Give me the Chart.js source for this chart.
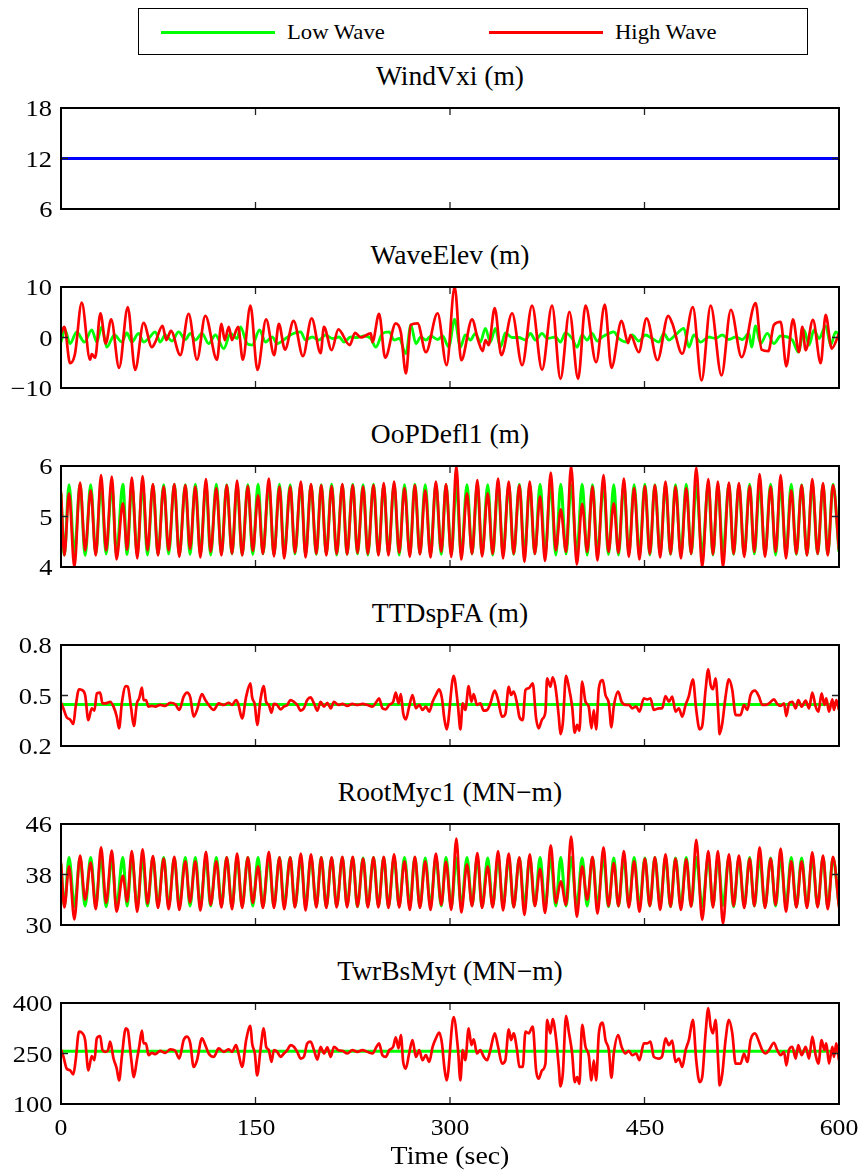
<!DOCTYPE html>
<html>
<head>
<meta charset="utf-8">
<title>Low / High wave load case time series</title>
<script src="https://cdn.jsdelivr.net/npm/chart.js@4.4.0/dist/chart.umd.min.js"></script>
<style>
  html, body { margin: 0; padding: 0; background: #fff; }
  body { position: relative; width: 862px; height: 1171px; overflow: hidden;
         font-family: "Liberation Serif", "Times New Roman", serif; color: #000; }
  canvas { position: absolute; left: 0; }
  .txt { position: absolute; white-space: nowrap; line-height: 1; }
  .title { left: 61px; width: 778px; text-align: center; font-size: 27px; transform: scaleX(1.02); transform-origin: 50% 50%; }
  .ytick { font-size: 23px; text-align: right; transform-origin: 100% 50%; }
  .xtick { font-size: 23px; transform-origin: 50% 50%; }
  #legend { position: absolute; left: 138px; top: 8px; width: 670px; height: 47px;
            border: 1.5px solid #000; box-sizing: border-box; background: #fff; }
  #legend .swatch { position: absolute; height: 3px; top: 22px; width: 114px; }
  #legend .lab { position: absolute; top: 12px; font-size: 22px; line-height: 1; transform: scaleX(1.03); transform-origin: 0 50%; }
</style>
</head>
<body>
<div id="legend">
  <div class="swatch" style="left:22px;background:#00ff00"></div>
  <div class="lab" style="left:148px">Low Wave</div>
  <div class="swatch" style="left:350px;background:#ff0000"></div>
  <div class="lab" style="left:476px">High Wave</div>
</div>
<script>
// ---------------- axis ticks ----------------
const timeTicks = [0, 150, 300, 450, 600];
const timeTickLabels = ['0', '150', '300', '450', '600'];
const windTicks = [6, 12, 18];
const windTickLabels = ['6', '12', '18'];
const waveTicks = [-10, 0, 10];
const waveTickLabels = ['\u221210', '0', '10'];
const oopTicks = [4, 5, 6];
const oopTickLabels = ['4', '5', '6'];
const ttdTicks = [0.2, 0.5, 0.8];
const ttdTickLabels = ['0.2', '0.5', '0.8'];
const rootTicks = [30, 38, 46];
const rootTickLabels = ['30', '38', '46'];
const twrTicks = [100, 250, 400];
const twrTickLabels = ['100', '250', '400'];

// ---------------- hub-height wind speed ----------------
const windTimes = [0, 600];
const windSpeed = [12, 12];

// ---------------- wave elevation (m) ----------------
const waveHighTimes = [0, 2.6, 7.0, 10.8, 16.0, 22.4, 23.7, 26.3, 30.4, 34.5, 38.7, 44.8, 51.5, 57.2, 63.7, 70.1, 72.7, 78.3, 81.2, 84.8,
  92.0, 98.4, 104.9, 111.3, 120.3, 123.7, 126.3, 129.4, 131.9, 136.6, 140.2, 146.1, 151.5, 158.2, 164.4, 168.0, 172.7, 179.4, 186.6, 193.3,
  200.2, 202.8, 208.7, 213.9, 222.6, 226.8, 231.2, 238.9, 240.2, 245.3, 250.0, 258.2, 262.1, 266.0, 269.8, 275.0, 281.4, 290.4, 297.4, 303.6,
  308.7, 317.0, 321.6, 325.2, 327.3, 329.8, 334.5, 339.6, 347.9, 355.6, 363.3, 371.0, 378.7, 385.2, 392.1, 398.8, 404.5, 412.7, 419.4, 424.5,
  432.3, 437.4, 439.2, 445.6, 451.6, 460.0, 468.3, 471.4, 479.1, 487.3, 494.0, 501.0, 509.4, 516.6, 524.9, 535.7, 540.3, 545.5, 549.8, 555.0,
  559.4, 564.5, 569.1, 571.7, 574.3, 579.9, 585.9, 589.7, 594.4, 600];
const waveHigh = [0.8, 2.1, -5.1, -3.2, 6.9, -4.4, -3.3, -4.0, 4.8, -1.2, 3.6, -6.0, 6.0, -6.4, 2.9, -1.9, -0.9, 2.3, -0.5, 1.3,
  -3.5, 4.7, -4.4, 4.3, -4.4, 2.7, -0.5, 2.1, -0.5, 2.1, -4.4, 6.3, -6.4, 3.6, -3.5, 2.7, -2.4, 3.3, -3.7, 3.8,
  -3.1, 2.1, -2.5, 1.6, -1.5, 0.9, 0.0, 0.8, -0.9, 4.7, -4.0, 2.8, 1.0, -7.1, 2.5, 2.8, -2.9, 4.8, -5.5, 10.0,
  -4.5, 3.6, -0.5, -2.7, -0.5, -1.5, 5.8, -3.5, 4.8, -5.5, 6.3, -6.4, 6.3, -8.2, 5.1, -8.2, 6.3, -4.9, 6.5, -6.0,
  3.3, -1.1, 0.5, -2.9, 3.8, -4.5, 4.3, 2.8, -3.2, 6.0, -8.5, 6.3, -7.5, 5.5, -3.9, 6.8, -2.4, -2.7, 2.5, 3.1,
  -5.7, 3.6, -2.9, 2.1, -2.5, 3.5, -5.1, 4.5, -2.2, 0.8];
const waveLowTimes = [0, 3.1, 7.0, 12.1, 18.0, 23.7, 27.6, 31.4, 35.3, 41.2, 46.9, 50.8, 54.6, 59.8, 63.7, 67.5, 72.7, 76.5, 80.4, 85.6,
  90.7, 95.9, 99.7, 103.6, 108.7, 113.9, 119.1, 125.5, 130.7, 135.8, 138.4, 143.5, 147.4, 153.1, 157.7, 162.9, 166.7, 173.2, 177.0, 184.8,
  188.6, 193.8, 198.9, 204.1, 209.3, 214.4, 218.3, 223.4, 228.6, 233.7, 238.9, 242.8, 247.9, 253.1, 256.9, 260.8, 266.0, 269.8, 273.7, 277.5,
  281.4, 285.3, 290.4, 294.3, 299.0, 303.6, 308.0, 311.8, 315.7, 319.6, 323.4, 327.3, 331.1, 335.0, 338.9, 342.7, 347.9, 353.0, 358.2, 362.0,
  365.9, 371.0, 374.9, 381.3, 385.2, 389.0, 394.2, 398.0, 401.9, 405.7, 409.6, 413.5, 417.3, 422.5, 426.3, 430.2, 436.6, 440.5, 445.6, 450.8,
  455.9, 461.1, 464.9, 468.8, 473.9, 480.4, 484.2, 488.1, 493.2, 499.7, 504.8, 510.0, 515.1, 520.3, 525.4, 530.5, 532.6, 535.7, 539.5, 544.7,
  549.8, 555.0, 564.0, 568.6, 573.0, 576.9, 580.7, 584.6, 589.7, 593.6, 597.4, 600];
const waveLow = [-0.9, 1.5, -1.2, 1.1, -0.9, 1.5, -0.9, 2.1, -1.9, 0.5, -0.9, 0.9, -0.9, 0.8, -0.9, -0.2, 1.1, -0.9, 0.5, -0.7,
  1.1, -0.4, 0.8, -0.5, 0.8, -1.2, 0.5, -2.2, 0.8, -0.2, 2.1, -1.2, -1.5, 1.5, -0.9, 0.1, -1.2, -0.2, 0.5, 1.1,
  -0.5, 0.1, -0.5, 0.5, -0.2, 0.1, -0.9, 0.1, 0.0, 0.3, -0.2, -1.9, 0.8, 1.1, -0.5, -0.2, -3.2, 2.5, -1.2, 0.1,
  -0.5, 0.3, -0.4, 0.3, -1.9, 3.6, -1.9, 0.5, -0.5, 0.8, -0.9, 1.8, -0.9, 1.8, -1.9, 0.9, 0.0, 0.0, -0.5, 0.8,
  -0.5, 0.8, -0.2, 0.1, -0.9, 0.9, -0.2, -1.9, 0.5, -0.5, 0.8, -0.7, 0.1, 0.8, 1.1, -0.2, -0.9, 0.5, -0.7, 0.5,
  -0.2, -0.9, 0.8, -0.5, 0.5, 1.8, -1.9, 0.5, -0.9, 0.1, -0.2, 0.5, -0.4, 0.1, -0.4, 0.8, -1.9, 2.3, -1.2, 0.8,
  -1.2, 0.3, -0.5, -2.9, 1.5, -1.5, 1.5, -0.2, 2.3, -1.5, 1.1, 0.5];

// ---------------- blade 1 out-of-plane deflection (m) and root moment (MN-m) ----------------
// turning points of the once-per-revolution cycle, shared by both blade channels
const bladeTimes = [0,
  2.6, 6.2, 10.3, 14.7, 18.6, 22.9, 26.8, 30.9, 34.8, 39.2,
  42.8, 47.7, 51.0, 54.6, 58.8, 62.9, 66.7, 70.9, 74.8, 79.2,
  83.0, 87.4, 91.2, 95.9, 99.5, 103.6, 107.5, 111.8, 115.4, 119.8,
  123.7, 127.8, 131.9, 135.8, 139.7, 144.1, 147.9, 152.0, 155.7, 160.3,
  164.2, 168.5, 172.1, 176.8, 180.4, 185.0, 188.6, 192.8, 196.9, 200.7,
  204.6, 208.7, 212.6, 217.0, 220.6, 225.0, 228.6, 233.0, 236.6, 241.0,
  244.8, 248.9, 252.5, 256.9, 260.8, 264.9, 269.0, 272.9, 276.8, 280.9,
  285.0, 289.1, 293.3, 296.9,
  301.0, 304.9, 308.7, 313.1, 317.0, 321.1, 324.7, 329.1, 332.9, 337.1,
  340.9, 345.3, 349.1, 353.5, 357.4, 361.5, 365.4, 369.5, 373.3, 377.7,
  381.6, 385.4, 389.5, 393.4, 397.8, 401.9, 405.8, 409.9, 413.7, 418.4,
  422.2, 426.3, 429.9, 434.1, 437.9, 442.0, 446.1, 450.3, 454.1, 458.0,
  462.1, 466.2, 470.1, 473.9, 478.1, 482.2, 486.0, 489.9, 494.5, 499.2,
  502.8, 506.6, 510.5, 515.1, 518.7, 522.8, 526.9, 531.1, 534.7, 538.8,
  542.9, 547.3, 551.1, 555.0, 559.1, 563.2, 567.1, 571.2, 575.3, 579.4,
  583.5, 587.7, 591.3, 595.4,
  600];
const oopHigh = [5.49,
  4.23, 5.46, 4.00, 5.67, 4.33, 5.52, 4.23, 5.82, 4.33, 5.79,
  4.15, 5.26, 4.34, 5.77, 4.17, 5.80, 4.33, 5.64, 4.23, 5.59,
  4.33, 5.64, 4.20, 5.62, 4.36, 5.59, 4.19, 5.74, 4.30, 5.56,
  4.23, 5.62, 4.26, 5.71, 4.23, 5.60, 4.32, 5.42, 4.26, 5.75,
  4.21, 5.59, 4.17, 5.59, 4.28, 5.69, 4.19, 5.64, 4.26, 5.62,
  4.23, 5.60, 4.26, 5.64, 4.25, 5.62, 4.28, 5.59, 4.26, 5.62,
  4.23, 5.66, 4.23, 5.69, 4.28, 5.56, 4.20, 5.62, 4.25, 5.52,
  4.19, 5.69, 4.30, 5.64,
  4.20, 6.00, 4.15, 5.46, 4.26, 5.72, 4.21, 5.46, 4.26, 5.75,
  4.17, 5.69, 4.26, 5.62, 4.10, 5.69, 4.26, 5.40, 4.12, 5.87,
  4.33, 5.14, 4.30, 6.00, 4.05, 5.25, 4.30, 5.59, 4.13, 5.82,
  4.30, 5.26, 4.28, 5.75, 4.20, 5.56, 4.15, 5.60, 4.26, 5.62,
  4.19, 5.69, 4.26, 5.59, 4.17, 5.56, 4.26, 5.97, 4.00, 5.74,
  4.25, 5.69, 4.00, 5.67, 4.26, 5.66, 4.20, 5.60, 4.30, 5.84,
  4.20, 5.59, 4.30, 5.82, 4.17, 5.52, 4.26, 5.62, 4.23, 5.74,
  4.26, 5.66, 4.23, 5.62,
  4.33];
const oopLow = [5.45,
  4.24, 5.63, 4.26, 5.64, 4.23, 5.63, 4.25, 5.64, 4.26, 5.63,
  4.24, 5.64, 4.25, 5.63, 4.26, 5.64, 4.24, 5.63, 4.25, 5.63,
  4.26, 5.64, 4.24, 5.63, 4.25, 5.64, 4.26, 5.63, 4.24, 5.64,
  4.25, 5.63, 4.26, 5.64, 4.24, 5.63, 4.25, 5.64, 4.26, 5.63,
  4.24, 5.64, 4.25, 5.63, 4.26, 5.64, 4.24, 5.63, 4.25, 5.63,
  4.26, 5.64, 4.24, 5.63, 4.25, 5.64, 4.26, 5.63, 4.24, 5.64,
  4.25, 5.63, 4.26, 5.64, 4.24, 5.63, 4.25, 5.64, 4.26, 5.63,
  4.24, 5.64, 4.25, 5.63,
  4.25, 5.64, 4.24, 5.63, 4.26, 5.64, 4.25, 5.63, 4.24, 5.64,
  4.26, 5.63, 4.25, 5.64, 4.24, 5.63, 4.26, 5.64, 4.25, 5.63,
  4.24, 5.64, 4.26, 5.63, 4.25, 5.64, 4.24, 5.63, 4.26, 5.64,
  4.25, 5.63, 4.24, 5.64, 4.26, 5.63, 4.25, 5.64, 4.24, 5.63,
  4.26, 5.64, 4.25, 5.63, 4.24, 5.64, 4.26, 5.63, 4.25, 5.64,
  4.24, 5.63, 4.26, 5.64, 4.25, 5.63, 4.24, 5.64, 4.26, 5.63,
  4.25, 5.64, 4.24, 5.63, 4.26, 5.64, 4.25, 5.63, 4.24, 5.64,
  4.26, 5.63, 4.25, 5.64,
  4.30];
const rootHigh = [39.9,
  32.8, 39.3, 30.9, 41.0, 34.0, 39.9, 32.5, 42.3, 33.5, 41.8,
  32.1, 37.8, 33.7, 41.7, 32.1, 42.0, 33.4, 40.9, 32.7, 40.5,
  32.5, 40.8, 32.4, 40.1, 33.6, 40.1, 32.3, 41.6, 33.2, 40.1,
  32.8, 40.7, 32.5, 41.3, 32.7, 40.7, 33.5, 39.3, 32.7, 41.6,
  32.7, 40.7, 32.5, 40.7, 32.8, 41.3, 32.3, 41.2, 32.8, 40.7,
  32.7, 40.7, 32.8, 40.8, 32.8, 40.8, 32.9, 40.5, 32.8, 40.7,
  32.8, 40.8, 32.7, 41.2, 32.8, 40.1, 32.4, 40.8, 32.7, 40.1,
  32.4, 41.3, 33.2, 40.0,
  32.4, 43.7, 32.0, 39.6, 33.0, 41.4, 32.7, 39.3, 32.8, 41.7,
  32.3, 41.3, 32.8, 40.7, 31.6, 41.2, 33.0, 38.9, 31.9, 42.6,
  33.5, 36.9, 33.2, 44.0, 31.3, 39.3, 34.0, 40.8, 31.8, 42.3,
  33.0, 39.8, 33.0, 41.7, 32.8, 40.1, 32.1, 40.5, 33.0, 40.7,
  32.4, 41.2, 32.9, 40.5, 32.4, 40.4, 32.9, 43.5, 30.8, 41.7,
  32.8, 41.7, 30.2, 41.2, 33.0, 41.0, 32.7, 40.5, 33.0, 42.3,
  32.7, 40.5, 33.2, 42.1, 32.1, 40.1, 32.8, 40.1, 32.7, 41.5,
  32.8, 41.0, 32.5, 40.8,
  32.8];
const rootLow = [39.6,
  33.0, 40.7, 32.9, 40.6, 33.0, 40.7, 33.1, 40.7, 32.9, 40.6,
  33.0, 40.7, 33.0, 40.7, 32.9, 40.6, 33.0, 40.7, 33.1, 40.7,
  32.9, 40.6, 33.0, 40.7, 33.0, 40.7, 32.9, 40.6, 33.0, 40.7,
  33.1, 40.7, 32.9, 40.6, 33.0, 40.7, 33.0, 40.7, 32.9, 40.6,
  33.0, 40.7, 33.1, 40.7, 32.9, 40.6, 33.0, 40.7, 33.0, 40.7,
  32.9, 40.6, 33.0, 40.7, 33.1, 40.7, 32.9, 40.6, 33.0, 40.7,
  33.0, 40.7, 32.9, 40.6, 33.0, 40.7, 33.1, 40.7, 32.9, 40.6,
  33.0, 40.7, 33.0, 40.7,
  32.9, 40.6, 33.0, 40.7, 33.1, 40.7, 32.9, 40.6, 33.0, 40.7,
  33.0, 40.7, 32.9, 40.6, 33.0, 40.7, 33.1, 40.7, 32.9, 40.6,
  33.0, 40.7, 33.0, 40.7, 32.9, 40.6, 33.0, 40.7, 33.1, 40.7,
  32.9, 40.6, 33.0, 40.7, 33.0, 40.7, 32.9, 40.6, 33.0, 40.7,
  33.1, 40.7, 32.9, 40.6, 33.0, 40.7, 33.0, 40.7, 32.9, 40.6,
  33.0, 40.7, 33.1, 40.7, 32.9, 40.6, 33.0, 40.7, 33.0, 40.7,
  32.9, 40.6, 33.0, 40.7, 33.1, 40.7, 32.9, 40.6, 33.0, 40.7,
  33.0, 40.7, 32.9, 40.6,
  33.1];

// ---------------- tower-top fore-aft displacement (m) and tower-base moment (MN-m) ----------------
const towerTimes = [0, 1.8, 4.4, 7.0, 9.5, 11.3, 13.9, 16.0, 18.6, 21.1,
  23.7, 25.8, 27.6, 30.2, 32.0, 34.0, 36.1, 37.9, 40.5, 43.0,
  44.8, 46.9, 50.0, 51.5, 54.1, 56.2, 58.5, 60.3, 62.4, 63.7,
  65.5, 67.5, 70.1, 72.7, 76.5, 80.4, 84.3, 88.1, 91.2, 94.6,
  97.2, 99.7, 102.3, 104.9, 108.7, 111.3, 113.9, 117.8, 121.6, 125.5,
  129.4, 131.9, 135.0, 136.6, 139.7, 142.8, 146.1, 147.4, 149.5, 151.3,
  153.8, 156.4, 158.2, 160.3, 162.3, 164.2, 166.7, 169.3, 171.9, 174.5,
  177.0, 179.6, 182.2, 184.8, 187.3, 189.9, 192.5, 195.1, 197.7, 200.2,
  202.8, 205.4, 208.0, 210.5, 213.9, 217.0, 220.8, 224.7, 228.6, 232.4,
  236.3, 240.2, 243.3, 245.3, 247.9, 250.5, 253.1, 256.2, 258.2, 260.3,
  262.1, 263.9, 265.9, 268.5, 271.1, 273.7, 276.3, 278.8, 281.4, 284.0,
  286.6, 289.1, 291.7, 293.8, 295.6, 297.4,
  302.8, 306.2, 308.0, 309.8, 311.8, 314.4, 316.5, 318.3, 320.8, 323.4,
  326.0, 328.6, 331.1, 334.5, 337.1, 340.1, 342.7, 345.3, 347.1, 349.1,
  351.7, 353.5, 356.1, 358.2, 360.7, 363.8, 366.4, 368.4, 371.0, 373.6,
  374.9, 377.4, 379.2, 381.3, 383.9, 385.2, 387.0, 389.5, 391.6, 394.2,
  396.2, 398.0, 399.8, 401.9, 404.5, 407.0, 409.1, 410.9, 412.7, 414.8,
  417.8, 419.9, 422.5, 424.5, 426.3, 429.7, 432.3, 435.3, 437.9, 440.5,
  443.6, 446.1, 449.5, 452.1, 454.6, 457.2, 461.1, 463.6, 466.2, 468.8,
  471.4, 473.9, 476.5, 479.1, 481.7, 484.2, 487.3, 489.9, 492.5, 494.5,
  497.1, 499.2, 501.0, 502.8, 504.8, 506.9, 507.9, 510.0, 512.5, 515.1,
  517.7, 520.3, 524.1, 526.7, 529.3, 531.8, 535.2, 538.3, 540.8, 543.4,
  546.0, 549.8, 552.4, 555.0, 557.6, 559.4, 561.4, 564.0, 566.6, 568.6,
  571.2, 574.3, 576.9, 579.4, 582.0, 584.1, 586.6, 588.7, 590.2, 592.3,
  594.9, 596.1, 597.9, 600];
const ttdHigh = [0.457, 0.424, 0.370, 0.358, 0.331, 0.434, 0.537, 0.533, 0.503, 0.354,
  0.424, 0.410, 0.513, 0.517, 0.453, 0.453, 0.457, 0.463, 0.434, 0.374,
  0.305, 0.453, 0.556, 0.552, 0.424, 0.319, 0.453, 0.483, 0.547, 0.473,
  0.473, 0.434, 0.438, 0.434, 0.444, 0.438, 0.457, 0.448, 0.414, 0.493,
  0.517, 0.489, 0.374, 0.414, 0.509, 0.473, 0.444, 0.414, 0.453, 0.444,
  0.457, 0.444, 0.473, 0.453, 0.364, 0.493, 0.572, 0.489, 0.444, 0.325,
  0.473, 0.556, 0.463, 0.444, 0.398, 0.450, 0.444, 0.418, 0.434, 0.444,
  0.473, 0.463, 0.444, 0.410, 0.424, 0.473, 0.489, 0.453, 0.410, 0.463,
  0.434, 0.457, 0.424, 0.463, 0.444, 0.450, 0.438, 0.450, 0.444, 0.450,
  0.444, 0.434, 0.463, 0.483, 0.424, 0.418, 0.444, 0.463, 0.517, 0.453,
  0.509, 0.394, 0.358, 0.434, 0.503, 0.424, 0.444, 0.414, 0.434, 0.404,
  0.463, 0.503, 0.537, 0.483, 0.364, 0.299,
  0.616, 0.434, 0.299, 0.453, 0.414, 0.556, 0.463, 0.509, 0.444, 0.453,
  0.410, 0.414, 0.453, 0.529, 0.473, 0.374, 0.390, 0.552, 0.503, 0.523,
  0.453, 0.374, 0.354, 0.533, 0.543, 0.572, 0.364, 0.305, 0.358, 0.404,
  0.602, 0.552, 0.608, 0.552, 0.374, 0.271, 0.335, 0.616, 0.552, 0.434,
  0.279, 0.325, 0.291, 0.582, 0.463, 0.434, 0.305, 0.414, 0.299, 0.543,
  0.592, 0.503, 0.453, 0.311, 0.434, 0.523, 0.463, 0.444, 0.444, 0.424,
  0.434, 0.404, 0.483, 0.477, 0.483, 0.414, 0.424, 0.424, 0.497, 0.463,
  0.493, 0.404, 0.424, 0.374, 0.444, 0.497, 0.596, 0.414, 0.299, 0.319,
  0.533, 0.655, 0.562, 0.537, 0.602, 0.394, 0.271, 0.335, 0.493, 0.596,
  0.533, 0.384, 0.384, 0.444, 0.414, 0.503, 0.529, 0.493, 0.444, 0.444,
  0.453, 0.477, 0.450, 0.438, 0.453, 0.378, 0.453, 0.463, 0.424, 0.473,
  0.434, 0.469, 0.424, 0.517, 0.434, 0.404, 0.513, 0.444, 0.483, 0.404,
  0.477, 0.414, 0.473, 0.414];
const twrHigh = [262, 242, 205, 200, 188, 230, 315, 312, 290, 200,
  242, 230, 295, 302, 260, 255, 258, 285, 235, 205,
  170, 240, 325, 320, 235, 180, 230, 270, 318, 280,
  280, 245, 252, 248, 258, 252, 262, 258, 235, 290,
  300, 280, 210, 230, 295, 275, 250, 240, 265, 255,
  262, 255, 275, 255, 210, 290, 332, 280, 250, 185,
  260, 325, 270, 260, 225, 260, 255, 240, 250, 260,
  275, 270, 255, 235, 240, 280, 285, 260, 232, 270,
  250, 268, 240, 270, 260, 258, 250, 260, 255, 260,
  255, 250, 270, 280, 245, 240, 260, 270, 298, 265,
  305, 225, 205, 250, 290, 240, 260, 230, 245, 225,
  270, 295, 312, 280, 210, 170,
  358, 260, 170, 260, 230, 325, 275, 292, 250, 260,
  240, 230, 260, 310, 270, 220, 230, 322, 290, 310,
  260, 210, 210, 315, 310, 330, 200, 175, 200, 220,
  350, 310, 352, 310, 210, 152, 190, 362, 315, 250,
  165, 180, 160, 335, 270, 245, 170, 230, 170, 310,
  342, 290, 260, 178, 250, 305, 270, 250, 258, 245,
  250, 230, 280, 280, 285, 240, 235, 242, 295, 275,
  288, 225, 235, 210, 260, 290, 350, 230, 165, 180,
  310, 385, 330, 310, 350, 220, 155, 190, 290, 350,
  310, 220, 220, 250, 225, 290, 310, 285, 260, 250,
  260, 282, 260, 245, 255, 215, 260, 270, 235, 275,
  245, 270, 235, 300, 245, 220, 290, 260, 280, 220,
  270, 240, 280, 230];
const calmTimes = [0, 600];
const ttdLow = [0.446, 0.446];
const twrLow = [257, 257];

// ---------------- drawing ----------------
const GREEN = '#00ff00', RED = '#ff0000', BLUE = '#0000ff';
const PAGE_W = 862, LEFT = 61, RIGHT = 839, PLOT_H = 101, PAD = 12;
const PANEL_TOPS = [108, 287, 466, 645, 824, 1003];

const panels = [
  { title: 'WindVxi (m)', ticks: windTicks, labels: windTickLabels,
    series: [{ t: windTimes, v: windSpeed, color: BLUE, w: 3 }] },
  { title: 'WaveElev (m)', ticks: waveTicks, labels: waveTickLabels,
    series: [{ t: waveHighTimes, v: waveHigh, color: RED, w: 2.7 }, { t: waveLowTimes, v: waveLow, color: GREEN, w: 2.8 }] },
  { title: 'OoPDefl1 (m)', ticks: oopTicks, labels: oopTickLabels,
    series: [{ t: bladeTimes, v: oopHigh, color: RED, w: 2.7 }, { t: bladeTimes, v: oopLow, color: GREEN, w: 3 }] },
  { title: 'TTDspFA (m)', ticks: ttdTicks, labels: ttdTickLabels,
    series: [{ t: towerTimes, v: ttdHigh, color: RED, w: 2.7 }, { t: calmTimes, v: ttdLow, color: GREEN, w: 3 }] },
  { title: 'RootMyc1 (MN\u2212m)', ticks: rootTicks, labels: rootTickLabels,
    series: [{ t: bladeTimes, v: rootHigh, color: RED, w: 2.7 }, { t: bladeTimes, v: rootLow, color: GREEN, w: 3 }] },
  { title: 'TwrBsMyt (MN\u2212m)', ticks: twrTicks, labels: twrTickLabels,
    series: [{ t: towerTimes, v: twrHigh, color: RED, w: 2.7 }, { t: calmTimes, v: twrLow, color: GREEN, w: 3 }] }
];

// box around each axes and MATLAB-style inward tick marks on all four sides
const frameTicks = {
  id: 'frameTicks',
  afterDatasetsDraw(chart, args, opts) {
    const { ctx, chartArea: a, scales: { x, y } } = chart;
    ctx.save();
    ctx.strokeStyle = '#222';
    ctx.lineWidth = 1.3;
    ctx.beginPath();
    opts.xTicks.forEach(v => {
      const px = x.getPixelForValue(v);
      ctx.moveTo(px, a.top); ctx.lineTo(px, a.top + 7);
      ctx.moveTo(px, a.bottom); ctx.lineTo(px, a.bottom - 7);
    });
    opts.yTicks.forEach(v => {
      const py = y.getPixelForValue(v);
      ctx.moveTo(a.left, py); ctx.lineTo(a.left + 7, py);
      ctx.moveTo(a.right, py); ctx.lineTo(a.right - 7, py);
    });
    ctx.stroke();
    ctx.strokeStyle = '#000';
    ctx.lineWidth = 2;
    ctx.strokeRect(a.left, a.top, a.right - a.left, a.bottom - a.top);
    ctx.restore();
  }
};

function addText(cls, text, css) {
  const d = document.createElement('div');
  d.className = 'txt ' + cls;
  d.textContent = text;
  Object.assign(d.style, css);
  document.body.appendChild(d);
  return d;
}

panels.forEach((p, i) => {
  const top = PANEL_TOPS[i];
  const canvasTop = top - PAD;
  const cv = document.createElement('canvas');
  cv.width = PAGE_W;
  cv.height = PLOT_H + 2 * PAD;
  cv.style.top = canvasTop + 'px';
  document.body.appendChild(cv);

  const chart = new Chart(cv, {
    type: 'line',
    data: {
      datasets: p.series.map(s => ({
        data: s.t.map((t, k) => ({ x: t, y: s.v[k] })),
        borderColor: s.color,
        borderWidth: s.w,
        pointRadius: 0,
        fill: false,
        cubicInterpolationMode: 'monotone'
      }))
    },
    options: {
      responsive: false,
      animation: false,
      events: [],
      layout: { padding: { left: LEFT, right: PAGE_W - RIGHT, top: PAD, bottom: PAD } },
      scales: {
        x: { type: 'linear', display: false, min: timeTicks[0], max: timeTicks[timeTicks.length - 1] },
        y: { type: 'linear', display: false, min: p.ticks[0], max: p.ticks[p.ticks.length - 1] }
      },
      plugins: {
        legend: { display: false },
        tooltip: { enabled: false },
        frameTicks: { xTicks: timeTicks, yTicks: p.ticks }
      }
    },
    plugins: [frameTicks]
  });

  // panel title
  addText('title', p.title, { top: (top - 45) + 'px' });

  // y tick labels, placed from the value scale
  p.ticks.forEach((v, k) => {
    const py = canvasTop + chart.scales.y.getPixelForValue(v);
    addText('ytick', p.labels[k], {
      right: (PAGE_W - 52) + 'px', top: py + 'px',
      transform: 'translateY(-50%) scaleX(1.15)'
    });
  });

  // time axis labels on the bottom panel only
  if (i === panels.length - 1) {
    timeTicks.forEach((v, k) => {
      const px = chart.scales.x.getPixelForValue(v);
      addText('xtick', timeTickLabels[k], {
        left: px + 'px', top: '1116px',
        transform: 'translateX(-50%) scaleX(1.12)'
      });
    });
    addText('title', 'Time (sec)', { top: '1143px', fontSize: '26px', transform: 'scaleX(1.07)' });
  }
});
</script>
</body>
</html>
